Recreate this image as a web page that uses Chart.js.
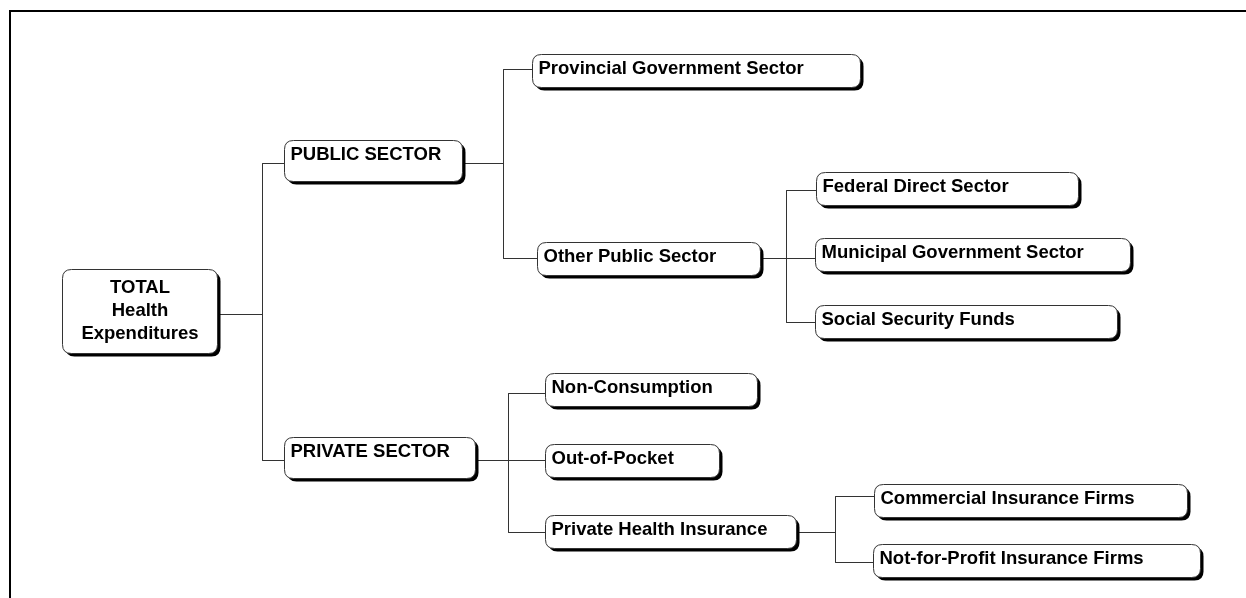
<!DOCTYPE html>
<html>
<head>
<meta charset="utf-8">
<title>Health Expenditures by Sector</title>
<script src="https://cdn.jsdelivr.net/npm/chart.js@4/dist/chart.umd.min.js"></script>
<style>
  html, body { margin: 0; padding: 0; background: #ffffff; }
  canvas { display: block; }
</style>
</head>
<body>
<canvas id="treeChart" width="1246" height="598"></canvas>
<script>
// Nodes of the tree (in diagram units)
var nodeLabels = [
  ["TOTAL", "Health", "Expenditures"],
  ["PUBLIC SECTOR"],
  ["PRIVATE SECTOR"],
  ["Provincial Government Sector"],
  ["Other Public Sector"],
  ["Federal Direct Sector"],
  ["Municipal Government Sector"],
  ["Social Security Funds"],
  ["Non-Consumption"],
  ["Out-of-Pocket"],
  ["Private Health Insurance"],
  ["Commercial Insurance Firms"],
  ["Not-for-Profit Insurance Firms"]
];
var nodeParent = [-1, 0, 0, 1, 1, 4, 4, 4, 2, 2, 2, 10, 10];
var nodeLeft   = [62, 284, 284, 532, 537, 816, 815, 815, 545, 545, 545, 874, 873];
var nodeRight  = [217, 462, 475, 860, 760, 1078, 1130, 1117, 757, 719, 796, 1187, 1200];
var nodeMidY   = [311, 160, 457, 70, 258, 188, 254, 321, 389, 460, 531, 500, 560];
var linkY      = [314, 163, 460, 69, 258, 190, 258, 322, 393, 460, 532, 496, 562];
// x of the vertical connector that joins the children of each node
var busX       = [262, 503, 508, null, 786, null, null, null, null, null, 835, null, null];

// connector segments built from the tree
var segments = [];
nodeParent.forEach(function(p, i) {
  if (busX[i] === null) return;
  var kids = [];
  nodeParent.forEach(function(q, j) { if (q === i) kids.push(j); });
  var ys = kids.map(function(k) { return linkY[k]; });
  var bx = busX[i] + 0.5;
  segments.push([{x: nodeRight[i], y: linkY[i] + 0.5}, {x: bx, y: linkY[i] + 0.5}]);
  segments.push([{x: bx, y: Math.min.apply(null, ys) + 0.5}, {x: bx, y: Math.max.apply(null, ys) + 0.5}]);
  kids.forEach(function(k) {
    segments.push([{x: bx, y: linkY[k] + 0.5}, {x: nodeLeft[k], y: linkY[k] + 0.5}]);
  });
});

var datasets = segments.map(function(seg) {
  return {
    data: seg,
    showLine: true,
    borderColor: "#333333",
    borderWidth: 1,
    pointRadius: 0,
    pointHoverRadius: 0
  };
});
// nodes themselves (drawn as boxes by the plugin below)
datasets.push({
  label: "nodes",
  data: nodeLeft.map(function(x, i) { return {x: x, y: nodeMidY[i]}; }),
  pointRadius: 0,
  pointHoverRadius: 0
});

function roundBox(ctx, x, y, w, h, r) {
  ctx.beginPath();
  ctx.moveTo(x + r, y);
  ctx.lineTo(x + w - r, y);
  ctx.quadraticCurveTo(x + w, y, x + w, y + r);
  ctx.lineTo(x + w, y + h - r);
  ctx.quadraticCurveTo(x + w, y + h, x + w - r, y + h);
  ctx.lineTo(x + r, y + h);
  ctx.quadraticCurveTo(x, y + h, x, y + h - r);
  ctx.lineTo(x, y + r);
  ctx.quadraticCurveTo(x, y, x + r, y);
  ctx.closePath();
}

var treePlugin = {
  id: "treeBoxes",
  beforeDraw: function(chart) {
    var ctx = chart.ctx;
    var sx = chart.scales.x, sy = chart.scales.y;
    // page frame (only the top and left edges show)
    ctx.save();
    ctx.strokeStyle = "#000000";
    ctx.lineWidth = 2;
    ctx.beginPath();
    ctx.moveTo(sx.getPixelForValue(10), sy.getPixelForValue(598));
    ctx.lineTo(sx.getPixelForValue(10), sy.getPixelForValue(11));
    ctx.lineTo(sx.getPixelForValue(1246), sy.getPixelForValue(11));
    ctx.stroke();
    ctx.restore();
  },
  afterDatasetsDraw: function(chart) {
    var ctx = chart.ctx;
    var sx = chart.scales.x, sy = chart.scales.y;
    var meta = chart.getDatasetMeta(chart.data.datasets.length - 1);
    ctx.save();
    ctx.font = "bold 18.5px 'Liberation Sans', Arial, sans-serif";
    ctx.textBaseline = "middle";
    meta.data.forEach(function(pt, i) {
      var x0 = Math.round(pt.x) + 0.5;
      var x1 = Math.round(sx.getPixelForValue(nodeRight[i])) + 0.5;
      var h = i === 0 ? 84 : (i < 3 ? 41 : 33);
      var y0 = Math.round(pt.y - h / 2) + 0.5;
      var w = x1 - x0;
      // shadow
      ctx.fillStyle = "#000000";
      roundBox(ctx, x0 + 3, y0 + 3, w, h, 9);
      ctx.fill();
      // box
      ctx.fillStyle = "#ffffff";
      ctx.strokeStyle = "#333333";
      ctx.lineWidth = 1;
      roundBox(ctx, x0, y0, w, h, 9);
      ctx.fill();
      ctx.stroke();
      // label
      ctx.fillStyle = "#000000";
      var lines = nodeLabels[i];
      if (i === 0) {
        ctx.textAlign = "center";
        lines.forEach(function(t, k) {
          ctx.fillText(t, (x0 + x1) / 2, pt.y - 23 + k * 23);
        });
      } else {
        ctx.textAlign = "left";
        var ty = i < 3 ? pt.y - 5 : pt.y - 1;
        ctx.fillText(lines[0], x0 + 6, ty);
      }
    });
    ctx.restore();
  }
};

new Chart(document.getElementById("treeChart"), {
  type: "scatter",
  data: { datasets: datasets },
  options: {
    responsive: false,
    animation: false,
    events: [],
    layout: { padding: 0 },
    plugins: {
      legend: { display: false },
      tooltip: { enabled: false }
    },
    scales: {
      x: { type: "linear", min: 0, max: 1246, display: false },
      y: { type: "linear", min: 0, max: 598, reverse: true, display: false }
    }
  },
  plugins: [treePlugin]
});
</script>
</body>
</html>
